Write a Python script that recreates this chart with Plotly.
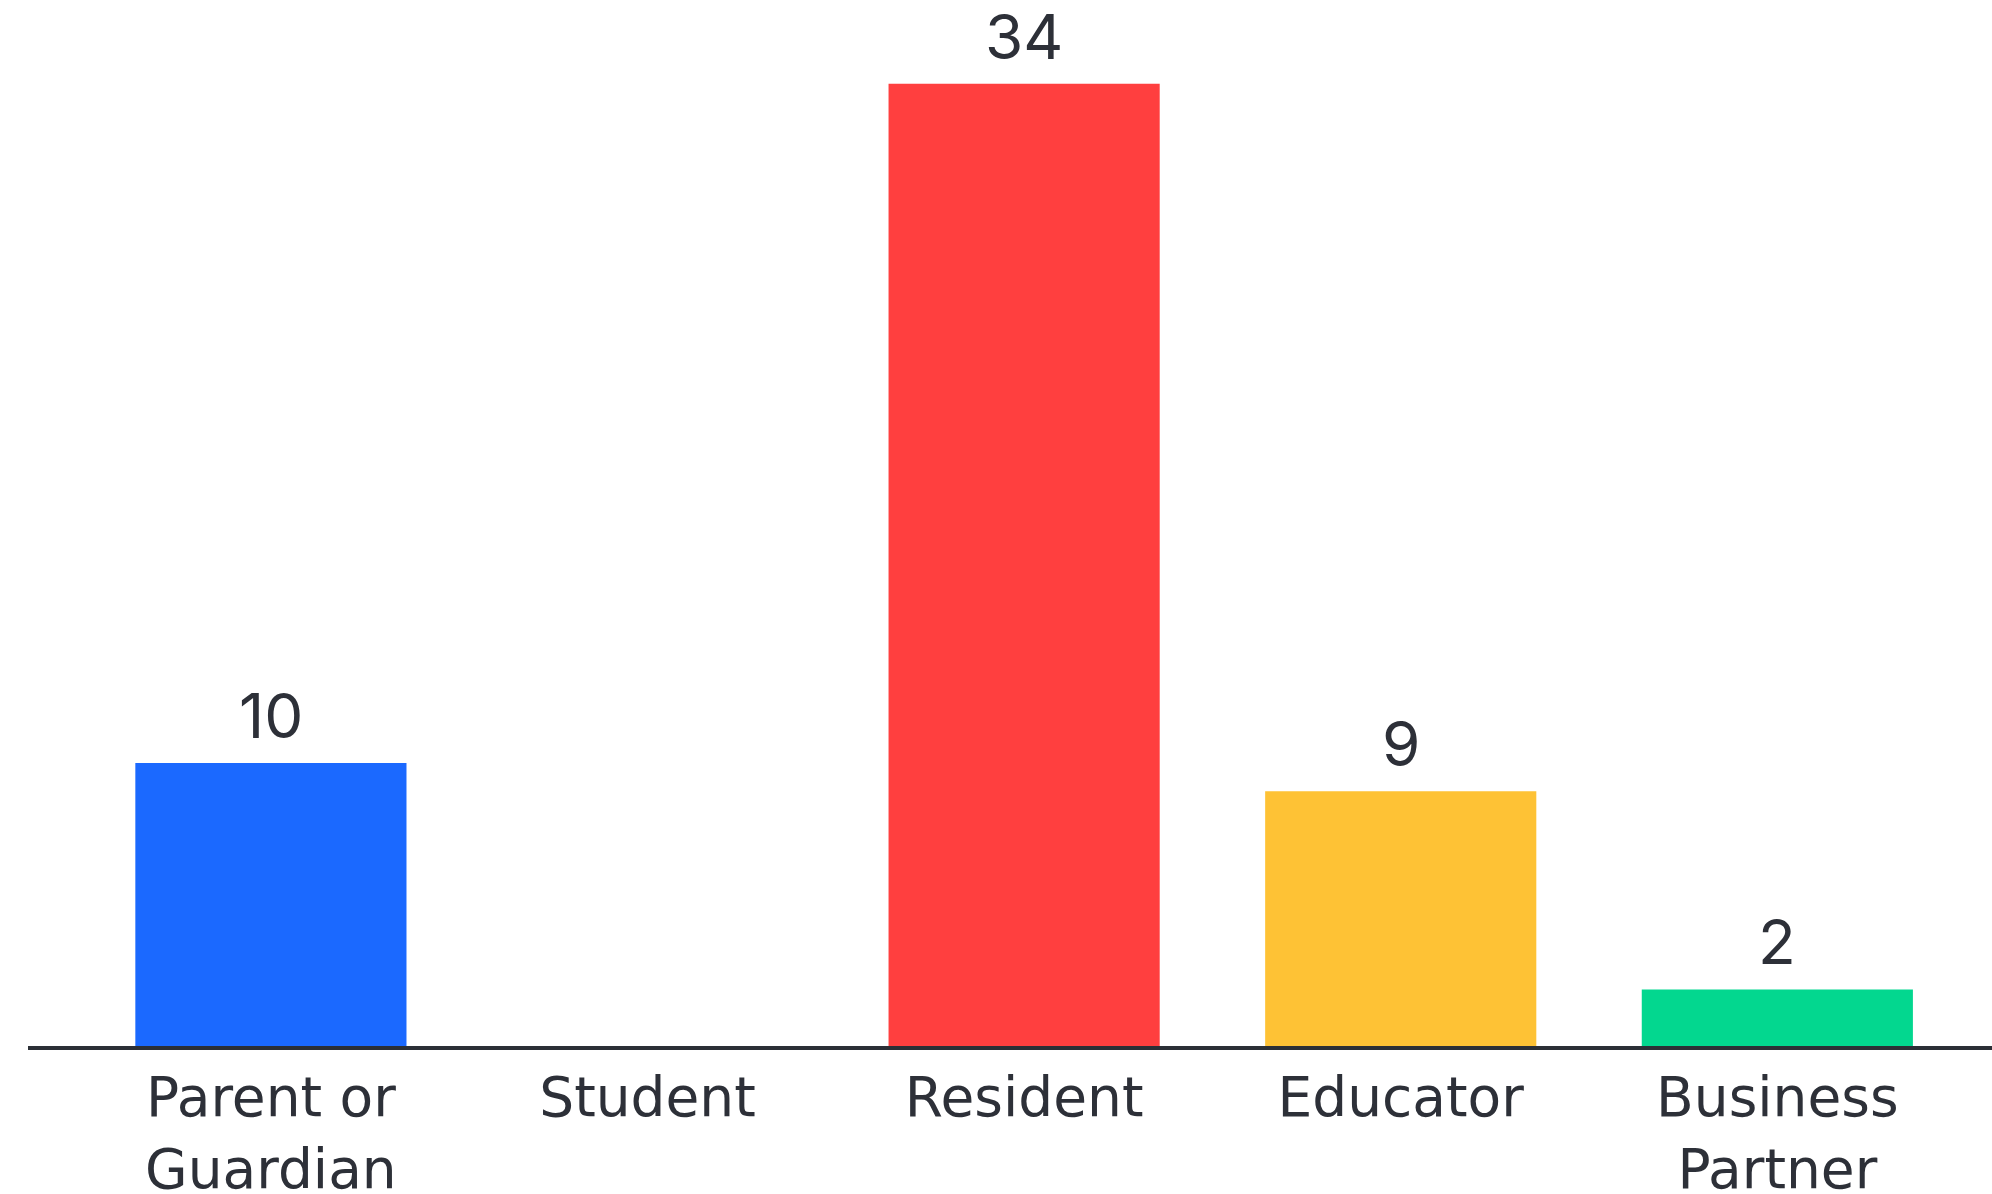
import plotly.graph_objects as go

categories = ["Parent or<br>Guardian", "Student", "Resident", "Educator", "Business<br>Partner"]
values = [10, 0, 34, 9, 2]
colors = ["#1B69FF", "#1B69FF", "#FF3F3F", "#FEC235", "#03D78F"]

fig = go.Figure()
fig.add_trace(go.Bar(
    x=list(range(len(categories))),
    y=values,
    marker=dict(color=colors, line=dict(width=0)),
    width=0.72,
    hoverinfo="skip",
))

for i, v in enumerate(values):
    if v > 0:
        fig.add_annotation(
            x=i, y=v, text=str(v), showarrow=False,
            yanchor="bottom", yshift=8,
            font=dict(family="Inter, Lato, sans-serif", size=62, color="#2D3038"),
        )

fig.update_layout(
    width=1992, height=1194,
    margin=dict(l=28, r=0, t=0, b=148, autoexpand=False),
    paper_bgcolor="white", plot_bgcolor="white",
    showlegend=False,
    xaxis=dict(
        range=[-0.645, 4.57],
        tickmode="array",
        tickvals=list(range(len(categories))),
        ticktext=categories,
        showline=True, linecolor="#2B2F36", linewidth=4,
        showgrid=False, zeroline=False, ticks="",
        automargin=False,
        tickfont=dict(family="DejaVu Sans, sans-serif", size=55, color="#2D3038"),
        ticklabelstandoff=0,
    ),
    yaxis=dict(
        range=[0, 36.96],
        visible=False, showgrid=False, zeroline=False, automargin=False,
    ),
)

fig.write_html(
    "out.html",
    config={"displayModeBar": False, "staticPlot": True},
    post_script="document.body.style.margin='0';document.body.style.padding='0';",
)
